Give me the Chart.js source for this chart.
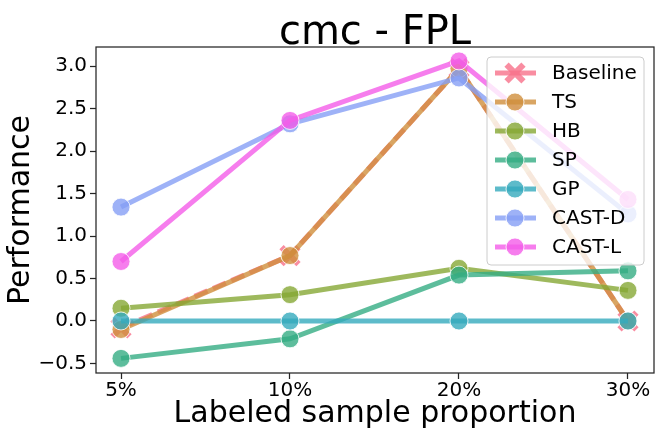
<!DOCTYPE html>
<html lang="en">
<head>
<meta charset="UTF-8">
<title>cmc - FPL</title>
<script src="https://cdn.jsdelivr.net/npm/chart.js"></script>
<style>
  html, body { margin: 0; padding: 0; background: #fff; }
  #wrap { width: 661px; height: 439px; }
</style>
</head>
<body>
<div id="wrap"><canvas id="myChart" width="661" height="439"></canvas></div>
<script>
// data
const categories = ['5%', '10%', '20%', '30%'];
const seriesNames = ['Baseline', 'TS', 'HB', 'SP', 'GP', 'CAST-D', 'CAST-L'];
const baseline = [-0.08, 0.77, 2.97, 0.00];
const ts       = [-0.10, 0.77, 2.97, 0.00];
const hb       = [0.15, 0.31, 0.62, 0.36];
const sp       = [-0.44, -0.21, 0.54, 0.59];
const gp       = [0.00, 0.00, 0.00, 0.00];
const castD    = [1.34, 2.32, 2.86, 1.26];
const castL    = [0.70, 2.36, 3.06, 1.43];
const yTicks   = [-0.5, 0.0, 0.5, 1.0, 1.5, 2.0, 2.5, 3.0];

const seriesValues = [baseline, ts, hb, sp, gp, castD, castL];
const colors = ['#f77189', '#cf8f3c', '#86a834', '#35ad83', '#35aabd', '#869ff5', '#f45ce8'];
const FONT = "'DejaVu Sans', sans-serif";

function alpha(hex, a) {
    const n = parseInt(hex.slice(1), 16);
    return `rgba(${n >> 16},${(n >> 8) & 255},${n & 255},${a})`;
}

const datasets = seriesNames.map((name, i) => ({
    label: name,
    data: seriesValues[i].map((v, k) => ({ x: k, y: v })),
    borderColor: alpha(colors[i], 0.8),
    backgroundColor: alpha(colors[i], 0.8),
    borderWidth: 5,
    borderDash: i === 0 ? [14, 6] : [],
    pointStyle: i === 0 ? 'crossRot' : 'circle',
    pointRadius: i === 0 ? 12 : 9,
    pointBorderWidth: i === 0 ? 6 : 1,
    pointBorderColor: i === 0 ? alpha(colors[i], 0.8) : 'rgba(255,255,255,0.8)',
    pointBackgroundColor: alpha(colors[i], 0.8),
    order: seriesNames.length - i,   // later series on top, like matplotlib
    clip: false,
    tension: 0
}));

// spines, title and the legend box inside the axes
const frame = {
    id: 'frame',
    afterDatasetsDraw(chart) {
        const { ctx, chartArea: a } = chart;
        ctx.save();
        ctx.strokeStyle = '#262626';
        ctx.lineWidth = 1.25;
        ctx.strokeRect(a.left, a.top, a.right - a.left, a.bottom - a.top);
        ctx.fillStyle = '#000';
        ctx.font = `40px ${FONT}`;
        ctx.textAlign = 'center';
        ctx.textBaseline = 'alphabetic';
        ctx.fillText('cmc - FPL', (a.left + a.right) / 2, 44);
        ctx.restore();
    },
    afterDraw(chart) {
        const { ctx } = chart;
        ctx.save();
        ctx.beginPath();
        ctx.roundRect(487, 57, 157, 208, 4);
        ctx.fillStyle = 'rgba(255,255,255,0.8)';
        ctx.fill();
        ctx.strokeStyle = '#cccccc';
        ctx.lineWidth = 1;
        ctx.stroke();
        chart.data.datasets.forEach((ds, i) => {
            const y = 73 + i * 29;
            ctx.beginPath();
            ctx.setLineDash([]);
            ctx.strokeStyle = ds.borderColor;
            ctx.lineWidth = 5;
            ctx.moveTo(495, y);
            ctx.lineTo(536, y);
            ctx.stroke();
            ctx.fillStyle = ds.pointBackgroundColor;
            ctx.strokeStyle = ds.pointBorderColor;
            ctx.lineWidth = ds.pointBorderWidth;
            Chart.helpers.drawPoint(ctx, {
                pointStyle: ds.pointStyle,
                radius: ds.pointRadius,
                borderWidth: ds.pointBorderWidth,
                rotation: 0
            }, 515, y);
            ctx.fillStyle = '#000';
            ctx.font = `20px ${FONT}`;
            ctx.textAlign = 'left';
            ctx.textBaseline = 'middle';
            ctx.fillText(ds.label, 552, y + 1);
        });
        ctx.restore();
    }
};

new Chart(document.getElementById('myChart'), {
    type: 'line',
    data: { datasets },
    options: {
        responsive: false,
        animation: false,
        layout: { autoPadding: false, padding: { top: 47, right: 7, left: 0, bottom: 0 } },
        plugins: { legend: { display: false }, tooltip: { enabled: false }, title: { display: false } },
        scales: {
            x: {
                type: 'linear',
                min: -0.148,
                max: 3.154,
                afterBuildTicks: s => { s.ticks = categories.map((c, k) => ({ value: k })); },
                afterFit: s => { s.height = 66; s.paddingLeft = 0; s.paddingRight = 0; },
                ticks: {
                    callback: v => categories[v],
                    color: '#000',
                    font: { family: FONT, size: 20 },
                    padding: 0,
                    maxRotation: 0
                },
                grid: { drawOnChartArea: false, drawTicks: true, tickLength: 6, tickColor: '#262626', tickWidth: 1.25 },
                border: { display: false },
                title: {
                    display: true,
                    text: 'Labeled sample proportion',
                    color: '#000',
                    font: { family: FONT, size: 30 },
                    padding: { top: 0, bottom: 7 }
                }
            },
            y: {
                min: -0.612,
                max: 3.224,
                afterBuildTicks: s => { s.ticks = yTicks.map(v => ({ value: v })); },
                afterFit: s => { s.width = 96; s.paddingTop = 0; s.paddingBottom = 0; },
                ticks: {
                    callback: v => (v < 0 ? '\u2212' + Math.abs(v).toFixed(1) : v.toFixed(1)),
                    color: '#000',
                    font: { family: FONT, size: 20 },
                    padding: 3
                },
                grid: { drawOnChartArea: false, drawTicks: true, tickLength: 6, tickColor: '#262626', tickWidth: 1.25 },
                border: { display: false },
                title: {
                    display: true,
                    text: 'Performance',
                    color: '#000',
                    font: { family: FONT, size: 30 },
                    padding: { top: 3, bottom: 0 }
                }
            }
        }
    },
    plugins: [frame]
});
</script>
</body>
</html>
